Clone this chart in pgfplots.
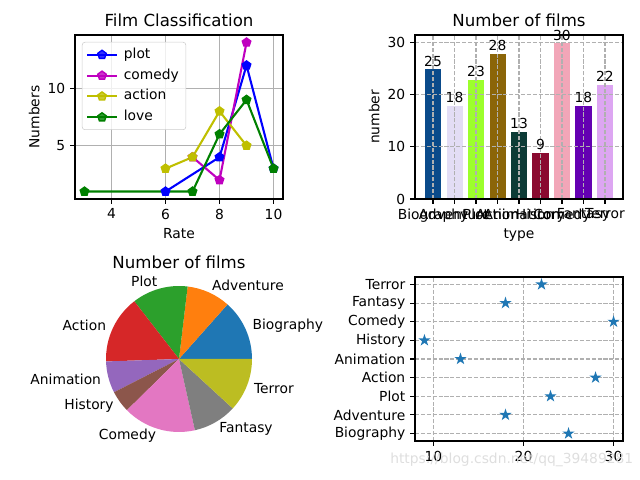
\documentclass[border=0pt]{standalone}
\usepackage{fontspec}
\setmainfont{DejaVu Sans}
\usepackage{pgfplots}
\pgfplotsset{compat=1.18}
\usetikzlibrary{plotmarks}

\definecolor{mplb}{rgb}{0,0,1}
\definecolor{mplm}{rgb}{0.75,0,0.75}
\definecolor{mply}{rgb}{0.75,0.75,0}
\definecolor{mplg}{rgb}{0,0.5,0}
\definecolor{gridc}{HTML}{B0B0B0}
\definecolor{legc}{HTML}{CCCCCC}
\definecolor{t1}{HTML}{1F77B4}
\definecolor{t2}{HTML}{FF7F0E}
\definecolor{t3}{HTML}{2CA02C}
\definecolor{t4}{HTML}{D62728}
\definecolor{t5}{HTML}{9467BD}
\definecolor{t6}{HTML}{8C564B}
\definecolor{t7}{HTML}{E377C2}
\definecolor{t8}{HTML}{7F7F7F}
\definecolor{t9}{HTML}{BCBD22}
\definecolor{b1}{HTML}{0A4A8A}
\definecolor{b2}{HTML}{E3DDF5}
\definecolor{b3}{HTML}{9CFF2C}
\definecolor{b4}{HTML}{8B6508}
\definecolor{b5}{HTML}{0C3B36}
\definecolor{b6}{HTML}{8A0A30}
\definecolor{b7}{HTML}{F2A6B8}
\definecolor{b8}{HTML}{6400B2}
\definecolor{b9}{HTML}{DDA6F2}

\pgfdeclareplotmark{fstar}{%
  \pgfpathmoveto{\pgfpointpolar{90}{\pgfplotmarksize}}%
  \pgfpathlineto{\pgfpointpolar{126}{0.382\pgfplotmarksize}}%
  \pgfpathlineto{\pgfpointpolar{162}{\pgfplotmarksize}}%
  \pgfpathlineto{\pgfpointpolar{198}{0.382\pgfplotmarksize}}%
  \pgfpathlineto{\pgfpointpolar{234}{\pgfplotmarksize}}%
  \pgfpathlineto{\pgfpointpolar{270}{0.382\pgfplotmarksize}}%
  \pgfpathlineto{\pgfpointpolar{306}{\pgfplotmarksize}}%
  \pgfpathlineto{\pgfpointpolar{342}{0.382\pgfplotmarksize}}%
  \pgfpathlineto{\pgfpointpolar{18}{\pgfplotmarksize}}%
  \pgfpathlineto{\pgfpointpolar{54}{0.382\pgfplotmarksize}}%
  \pgfpathclose
  \pgfusepathqfillstroke}

\pgfplotsset{
  mplbase/.style={
    scale only axis, width=149.76bp, height=118.08bp, anchor=south west,
    /pgf/number format/assume math mode=true,
    tick align=outside, tick pos=left, major tick length=3.5bp,
    tick style={black, line width=0.8bp},
    axis line style={line width=0.8bp},
    ticklabel style={font=\fontsize{10}{12}\selectfont},
    label style={font=\fontsize{10}{12}\selectfont},
    ylabel shift=-1bp,
    every axis title shift=6bp,
    title style={font=\fontsize{12}{14}\selectfont, at={(0.5,1)}, anchor=base},
  },
  solidgrid/.style={grid=major, grid style={gridc, line width=0.8bp}},
  dashgrid/.style={grid=major, grid style={gridc, line width=0.8bp, dash pattern=on 2.96bp off 1.28bp}},
}

\begin{document}
\begin{tikzpicture}
\path[use as bounding box] (0,0) rectangle (460.8bp,345.6bp);

% ---------- top left: line plot
\begin{axis}[mplbase, solidgrid, at={(54bp,202.32bp)},
  xmin=2.65, xmax=10.35, ymin=0.35, ymax=14.65,
  xtick={4,6,8,10}, ytick={5,10},
  title={Film Classification}, xlabel={Rate}, ylabel={Numbers},
  legend cell align=left,
  legend image code/.code={\draw[mark repeat=2,mark phase=2] plot coordinates {(0bp,0bp)(10.5bp,0bp)(21bp,0bp)};},
  legend style={at={(0,1)}, anchor=north west, xshift=5bp, yshift=-5bp,
    draw=legc, rounded corners=2bp, fill=white, fill opacity=0.8, text opacity=1,
    font=\fontsize{10}{12}\selectfont, inner xsep=3bp, inner ysep=1.5bp, row sep=0bp, column sep=2.5bp,
    nodes={inner ysep=2.5bp, text height=7.6bp, text depth=2.4bp}},
  every axis plot/.append style={line width=1.5bp, mark=pentagon*, mark size=3.2bp, mark options={solid, line width=1bp}},
]
\addplot[mplb] coordinates {(6,1) (8,4) (9,12) (10,3)};
\addlegendentry{plot}
\addplot[mplm] coordinates {(7,4) (8,2) (9,14)};
\addlegendentry{comedy}
\addplot[mply] coordinates {(6,3) (7,4) (8,8) (9,5)};
\addlegendentry{action}
\addplot[mplg] coordinates {(3,1) (7,1) (8,6) (9,9) (10,3)};
\addlegendentry{love}
\end{axis}

% ---------- top right: bar chart
\begin{axis}[mplbase, dashgrid, axis on top, at={(298.8bp,202.32bp)},
  xmin=-0.84, xmax=8.84, ymin=0, ymax=31.5,
  xtick={0,1,2,3,4,5,6,7,8},
  xticklabels={Biography,Adventure,Plot,Action,Animation,History,Comedy,Fantasy,Terror},
  ytick={0,10,20,30},
  title={Number of films}, xlabel={type}, ylabel={number},
  xlabel shift=-2bp,
  every axis plot/.append style={ybar, bar width=0.8, bar shift=0pt, draw=white, line width=0.6bp,
    nodes near coords, nodes near coords style={anchor=south, inner sep=1.5bp, font=\fontsize{10}{12}\selectfont, text=black}},
]
\addplot[fill=b1] coordinates {(0,25)};
\addplot[fill=b2] coordinates {(1,18)};
\addplot[fill=b3] coordinates {(2,23)};
\addplot[fill=b4] coordinates {(3,28)};
\addplot[fill=b5] coordinates {(4,13)};
\addplot[fill=b6] coordinates {(5,9)};
\addplot[fill=b7] coordinates {(6,30)};
\addplot[fill=b8] coordinates {(7,18)};
\addplot[fill=b9] coordinates {(8,22)};
\end{axis}

% ---------- bottom left: pie chart
\gdef\pietotal{0}
\foreach \v in {25,18,23,28,13,9,30,18,22} {\pgfmathsetmacro\tmp{\pietotal+\v}\xdef\pietotal{\tmp}}
\gdef\piecmds{}
\xdef\startang{0}
\foreach \v/\c/\lab in {25/t1/Biography,18/t2/Adventure,23/t3/Plot,28/t4/Action,13/t5/Animation,9/t6/History,30/t7/Comedy,18/t8/Fantasy,22/t9/Terror} {
  \pgfmathsetmacro\endang{\startang+\v*360/\pietotal}
  \pgfmathsetmacro\midang{(\startang+\endang)/2}
  \pgfmathsetmacro\lx{1.1*cos(\midang)}
  \pgfmathsetmacro\ly{1.1*sin(\midang)}
  \pgfmathsetmacro\sx{cos(\startang)}
  \pgfmathsetmacro\sy{sin(\startang)}
  \ifdim\lx pt>0pt \def\anc{west}\else\def\anc{east}\fi
  \xdef\piecmds{\unexpanded\expandafter{\piecmds}%
    \noexpand\fill[\c] (axis cs:0,0) -- (axis cs:\sx,\sy) arc[start angle=\startang, end angle=\endang, radius=52.56bp] -- cycle;%
    \noexpand\node[anchor=\anc, inner sep=0pt, font=\noexpand\fontsize{10}{12}\noexpand\selectfont] at (axis cs:\lx,\ly) {\lab};}%
  \xdef\startang{\endang}%
}
\begin{axis}[mplbase, at={(54bp,28.08bp)}, hide axis,
  xmin=-1.4247, xmax=1.4247, ymin=-1.1233, ymax=1.1233,
  title={Number of films}, clip=false]
\piecmds
\end{axis}

% ---------- bottom right: scatter
\begin{axis}[mplbase, dashgrid, at={(298.8bp,28.08bp)},
  xmin=7.95, xmax=31.05, ymin=-0.4, ymax=8.4,
  xtick={10,20,30}, ytick={0,1,2,3,4,5,6,7,8},
  yticklabels={Biography,Adventure,Plot,Action,Animation,History,Comedy,Fantasy,Terror},
]
\addplot[only marks, mark=fstar, mark size=3bp, color=t1, mark options={line width=1bp}]
  coordinates {(25,0) (18,1) (23,2) (28,3) (13,4) (9,5) (30,6) (18,7) (22,8)};
\end{axis}

\node[anchor=base west, inner sep=0pt, text=black!13, font=\fontsize{10}{12}\selectfont]
  at (280.8bp,12.2bp) {https://blog.csdn.net/qq\_39489281};
\end{tikzpicture}
\end{document}
